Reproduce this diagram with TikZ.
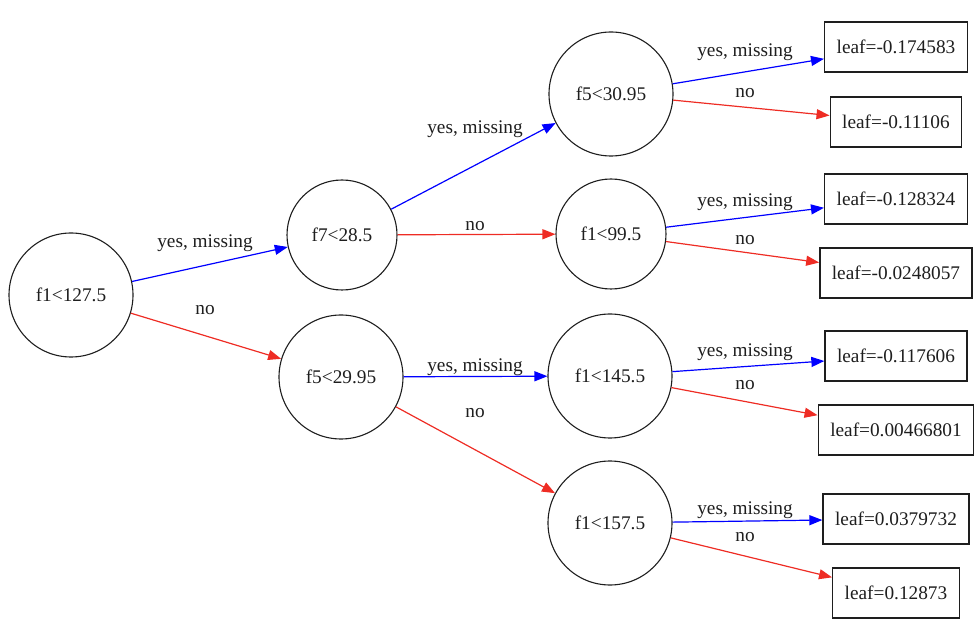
\documentclass[tikz,border=0pt]{standalone}
\usepackage{fontspec}
\setmainfont{Liberation Serif}
\usetikzlibrary{arrows.meta}
\definecolor{yescol}{RGB}{0,0,255}
\definecolor{nocol}{RGB}{238,44,36}
\definecolor{ink}{RGB}{30,30,30}
\begin{document}
\begin{tikzpicture}[x=1pt,y=-1pt,
  font=\fontsize{19.3}{23}\selectfont,
  split/.style={circle,draw=ink,line width=1.1pt,inner sep=0pt,minimum size=124pt,text=ink},
  splitsm/.style={split,minimum size=110pt},
  leafbox/.style={rectangle,draw=ink,line width=1.4pt,inner xsep=12pt,inner ysep=0pt,minimum height=50pt,text=ink},
  yesedge/.style={draw=yescol,line width=1.2pt,-{Triangle[length=13pt,width=10pt]}},
  noedge/.style={draw=nocol,line width=1.2pt,-{Triangle[length=13pt,width=10pt]}},
  lab/.style={inner sep=0pt,text=ink}]
\useasboundingbox (0,0) rectangle (978,636);
% split nodes
\node[split]   (n0) at (71,295) {f1<127.5};
\node[splitsm] (n1) at (342,235) {f7<28.5};
\node[split]   (n2) at (341,377) {f5<29.95};
\node[split]   (n3) at (611,94) {f5<30.95};
\node[splitsm] (n4) at (611,234) {f1<99.5};
\node[split]   (n5) at (610,376) {f1<145.5};
\node[split]   (n6) at (610,523) {f1<157.5};
% leaves
\node[leafbox] (l1) at (896,47) {leaf=-0.174583};
\node[leafbox] (l2) at (896,122) {leaf=-0.11106};
\node[leafbox] (l3) at (896,199) {leaf=-0.128324};
\node[leafbox] (l4) at (896,273) {leaf=-0.0248057};
\node[leafbox] (l5) at (896,356) {leaf=-0.117606};
\node[leafbox] (l6) at (896,430) {leaf=0.00466801};
\node[leafbox] (l7) at (896,519) {leaf=0.0379732};
\node[leafbox] (l8) at (896,593) {leaf=0.12873};
% edges
\draw[yesedge] (n0) -- (n1);
\draw[noedge]  (n0) -- (n2);
\draw[yesedge] (n1) -- (n3);
\draw[noedge]  (n1) -- (n4);
\draw[yesedge] (n2) -- (n5);
\draw[noedge]  (n2) -- (n6);
\draw[yesedge] (n3) -- (l1);
\draw[noedge]  (n3) -- (l2);
\draw[yesedge] (n4) -- (l3);
\draw[noedge]  (n4) -- (l4);
\draw[yesedge] (n5) -- (l5);
\draw[noedge]  (n5) -- (l6);
\draw[yesedge] (n6) -- (l7);
\draw[noedge]  (n6) -- (l8);
% edge labels
\node[lab] (y1) at (205,243) {yes, missing};
\node[lab] (o1) at (205,310) {no};
\node[lab] (y2) at (475,129) {yes, missing};
\node[lab] (o2) at (475,226) {no};
\node[lab] (y3) at (475,367) {yes, missing};
\node[lab] (o3) at (475,413) {no};
\node[lab] (y4) at (745,52) {yes, missing};
\node[lab] (o4) at (745,93) {no};
\node[lab] (y5) at (745,202) {yes, missing};
\node[lab] (o5) at (745,240) {no};
\node[lab] (y6) at (745,352) {yes, missing};
\node[lab] (o6) at (745,385) {no};
\node[lab] (y7) at (745,510) {yes, missing};
\node[lab] (o7) at (745,537) {no};
\end{tikzpicture}
\end{document}
